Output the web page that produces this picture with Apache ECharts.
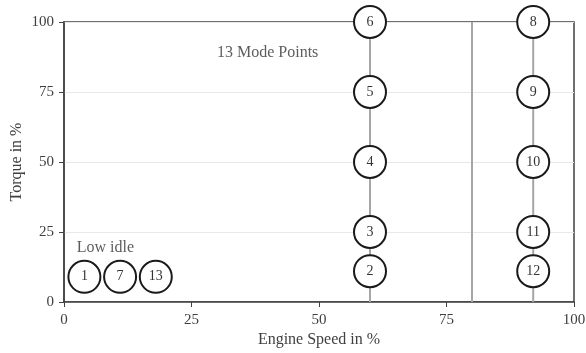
<!DOCTYPE html>
<html><head><meta charset="utf-8">
<script src="https://cdn.jsdelivr.net/npm/echarts@6/dist/echarts.min.js"></script>
<style>html,body{margin:0;padding:0;background:#fff}#c{width:586px;height:353px}</style>
</head><body><div id="c"></div>
<script>
const modeLabels = ['1','2','3','4','5','6','7','8','9','10','11','12','13'];
const speedValues = [4, 60, 60, 60, 60, 60, 11, 92, 92, 92, 92, 92, 18];
const torqueValues = [9, 11, 25, 50, 75, 100, 9, 100, 75, 50, 25, 11, 9];
const verticalLineSpeeds = [60, 80, 92];
const verticalLineTorque = [0, 100];
const xTicks = [0, 25, 50, 75, 100];
const yTicks = [0, 25, 50, 75, 100];
const annotations = [
  {text: '13 Mode Points', x: 30, y: 89},
  {text: 'Low idle', x: 2.5, y: 19.5}
];

const serif = '"Liberation Serif", "DejaVu Serif", serif';
const chart = echarts.init(document.getElementById('c'));
const lineSeries = verticalLineSpeeds.map(s => ({
  type: 'line', silent: true, symbol: 'none', z: 1,
  lineStyle: {color: '#a6a6a6', width: 2},
  data: verticalLineTorque.map(t => [s, t])
}));
chart.setOption({
  animation: false,
  grid: {left: 64, right: 12, top: 22, bottom: 51, show: true, borderColor: '#404040', borderWidth: 1.5,
    containLabel: false, outerBoundsMode: 'none'},
  xAxis: {
    type: 'value', min: xTicks[0], max: xTicks[xTicks.length-1], interval: 25,
    name: 'Engine Speed in %', nameLocation: 'middle', nameGap: 30, nameMoveOverlap: false,
    nameTextStyle: {fontFamily: serif, fontSize: 16, color: '#404040'},
    axisLine: {lineStyle: {color: '#404040', width: 1.5}},
    axisTick: {show: true, length: 5, lineStyle: {color: '#404040'}},
    axisLabel: {fontFamily: serif, fontSize: 15, color: '#404040', margin: 11},
    splitLine: {show: false}
  },
  yAxis: {
    type: 'value', min: yTicks[0], max: yTicks[yTicks.length-1], interval: 25,
    name: 'Torque in %', nameLocation: 'middle', nameGap: 39, nameMoveOverlap: false,
    nameTextStyle: {fontFamily: serif, fontSize: 16, color: '#404040'},
    axisLine: {show: true, lineStyle: {color: '#404040', width: 1.5}},
    axisTick: {show: true, length: 5, lineStyle: {color: '#404040'}},
    axisLabel: {fontFamily: serif, fontSize: 15, color: '#404040', margin: 10},
    splitLine: {show: true, lineStyle: {color: '#e8e8e8', width: 1}}
  },
  series: [
    ...lineSeries,
    {
      type: 'scatter', z: 5, symbol: 'circle', symbolSize: 32,
      itemStyle: {color: '#fff', borderColor: '#1a1a1a', borderWidth: 2, opacity: 1},
      label: {show: true, position: 'inside', formatter: p => p.data[2],
        fontFamily: serif, fontSize: 14, color: '#333'},
      data: modeLabels.map((m, i) => [speedValues[i], torqueValues[i], m])
    },
    {
      type: 'scatter', symbolSize: 0, z: 6, silent: true,
      label: {show: true, position: 'right', distance: 0, formatter: p => p.data[2],
        fontFamily: serif, fontSize: 16, color: '#333'},
      data: annotations.map(a => [a.x, a.y, a.text])
    }
  ]
});
</script></body></html>
